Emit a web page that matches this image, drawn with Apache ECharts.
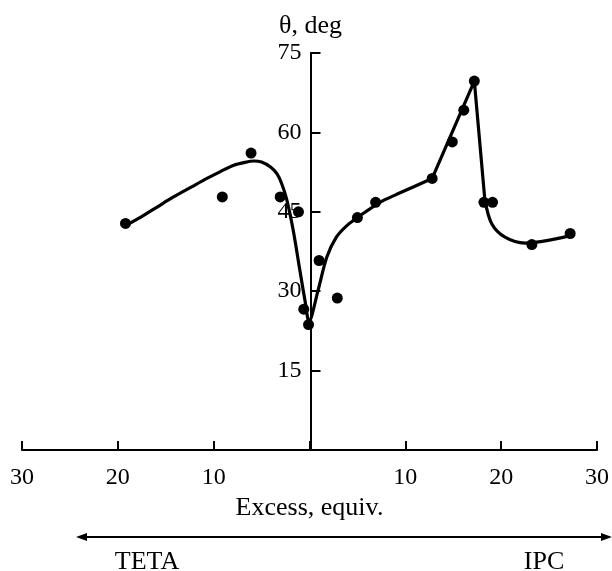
<!DOCTYPE html>
<html>
<head>
<meta charset="utf-8">
<script src="https://cdn.jsdelivr.net/npm/echarts@6/dist/echarts.min.js"></script>
<style>
html,body{margin:0;padding:0;background:#fff;}
#chart{width:612px;height:571px;}
</style>
</head>
<body>
<div id="chart"></div>
<script>
// Measured data points (excess, equiv. ; theta, deg). Negative x = TETA side, positive = IPC side.
var pointX = [-19.2, -9.1, -6.1, -3.06, -1.15, -0.6, -0.1, 1.0, 2.9, 5.0, 6.9, 12.8, 14.9, 16.1, 17.2, 18.2, 19.1, 23.2, 27.2];
var pointY = [42.8, 47.8, 56.1, 47.8, 45.0, 26.6, 23.7, 35.8, 28.7, 43.9, 46.8, 51.3, 58.2, 64.2, 69.7, 46.8, 46.8, 38.8, 40.9];

// Hand-drawn guide curve, in three pieces
var curveLeftX  = [-19.0, -17.6, -15.9, -14.2, -12.4, -10.7, -9.3, -7.9, -6.85, -5.8, -5.0, -4.1, -3.4, -2.9, -2.36, -1.7, -1.0, -0.45, -0.05, 0.9, 1.8, 2.8, 3.9, 5.3, 7.35, 9.1, 12.8];
var curveLeftY  = [42.6, 44.0, 45.9, 47.8, 49.6, 51.3, 52.6, 53.8, 54.3, 54.6, 54.4, 53.5, 52.2, 50.3, 47.2, 41.5, 33.9, 28.0, 24.3, 30.2, 36.4, 40.2, 42.4, 44.3, 46.8, 48.3, 51.3];
var curveMidX   = [12.8, 17.2, 18.3];
var curveMidY   = [51.3, 69.7, 47.2];
var curveRightX = [18.3, 19.0, 20.4, 22.5, 24.9, 27.2];
var curveRightY = [47.2, 42.8, 40.2, 39.1, 39.6, 40.5];

var xTicks = [-30, -20, -10, 0, 10, 20, 30];
var yTicks = [0, 15, 30, 45, 60, 75];

var yName = 'θ, deg';
var xName = 'Excess, equiv.';
var leftLabel = 'TETA';
var rightLabel = 'IPC';

function pairs(xs, ys){ return xs.map(function(x,i){ return [x, ys[i]]; }); }

var FONT = '"Liberation Serif", "DejaVu Serif", serif';
var FS = 24;
var FN = 26;

var W = 612, GL = 22, GR = 13;
var zeroOffset = -((W - GL - GR) / 2);

var chart = echarts.init(document.getElementById('chart'), null, {renderer:'canvas'});
var lineStyle = {color:'#000', width:3.2};

chart.setOption({
  backgroundColor:'#fff',
  animation:false,
  grid:{left:GL, right:GR, top:53, bottom:121, containLabel:false},
  xAxis:{
    type:'value', min:xTicks[0], max:xTicks[xTicks.length-1], interval:10,
    name:xName, nameLocation:'middle', nameGap:45,
    nameTextStyle:{fontFamily:FONT, fontSize:FN, color:'#000'},
    axisLine:{onZero:false, lineStyle:{color:'#000', width:2}},
    axisTick:{inside:true, length:9, lineStyle:{color:'#000', width:2}},
    axisLabel:{margin:16, fontFamily:FONT, fontSize:FS, color:'#000',
      formatter:function(v){ return v===0 ? '' : String(Math.abs(v)); }},
    splitLine:{show:false}
  },
  yAxis:{
    type:'value', min:yTicks[0], max:yTicks[yTicks.length-1], interval:15,
    position:'left', offset:zeroOffset,
    name:yName, nameLocation:'end', nameGap:14,
    nameTextStyle:{fontFamily:FONT, fontSize:FN, color:'#000', align:'center'},
    axisLine:{onZero:false, lineStyle:{color:'#000', width:2}},
    axisTick:{inside:true, length:10, lineStyle:{color:'#000', width:2}},
    axisLabel:{margin:9, fontFamily:FONT, fontSize:FS, color:'#000',
      formatter:function(v){ return v===0 ? '' : String(v); }},
    splitLine:{show:false}
  },
  series:[
    {type:'line', data:pairs(curveLeftX, curveLeftY), smooth:0.3, showSymbol:false, lineStyle:lineStyle, z:2},
    {type:'line', data:pairs(curveMidX, curveMidY), smooth:false, showSymbol:false, lineStyle:lineStyle, z:2},
    {type:'line', data:pairs(curveRightX, curveRightY), smooth:0.3, showSymbol:false, lineStyle:lineStyle, z:2},
    {type:'scatter', data:pairs(pointX, pointY), symbol:'circle', symbolSize:11, itemStyle:{color:'#000', opacity:1}, z:3}
  ],
  graphic:[
    {type:'line', shape:{x1:80, y1:537, x2:608, y2:537}, style:{stroke:'#000', lineWidth:2}},
    {type:'polygon', shape:{points:[[76,537],[87,533],[87,541]]}, style:{fill:'#000'}},
    {type:'polygon', shape:{points:[[612,537],[601,533],[601,541]]}, style:{fill:'#000'}},
    {type:'text', x:147, y:562, style:{text:leftLabel, fontFamily:FONT, fontSize:FN, fill:'#000', align:'center', verticalAlign:'middle'}},
    {type:'text', x:544, y:562, style:{text:rightLabel, fontFamily:FONT, fontSize:FN, fill:'#000', align:'center', verticalAlign:'middle'}}
  ]
});
</script>
</body>
</html>
